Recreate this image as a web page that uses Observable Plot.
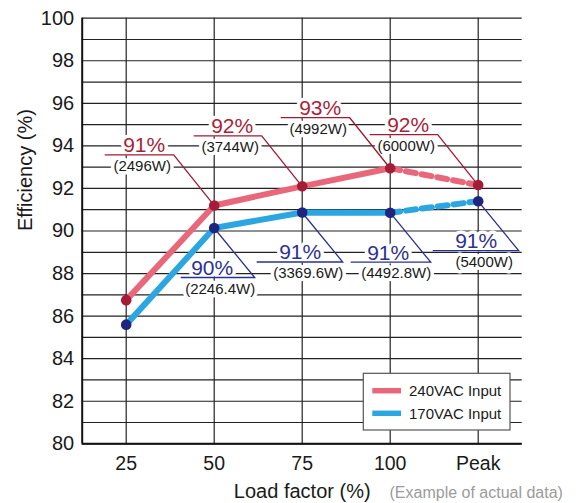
<!DOCTYPE html>
<html><head><meta charset="utf-8">
<script src="https://cdn.jsdelivr.net/npm/d3@7"></script>
<script src="https://cdn.jsdelivr.net/npm/@observablehq/plot@0.6"></script>
<style>body{margin:0;background:#fff} svg{display:block}</style>
</head><body><div id="chart"></div>
<script>
// ---- data ----
const categories = ["25", "50", "75", "100", "Peak"];
const series = ["240VAC Input", "170VAC Input"];
const eff240 = [86.75, 91.2, 92.1, 92.95, 92.16];
const eff170 = [85.6, 90.14, 90.87, 90.86, 91.4];
const labelIdx = [1, 2, 3, 4];
const pct240 = ["91%", "92%", "93%", "92%"];
const watt240 = ["(2496W)", "(3744W)", "(4992W)", "(6000W)"];
const pct170 = ["90%", "91%", "91%", "91%"];
const watt170 = ["(2246.4W)", "(3369.6W)", "(4492.8W)", "(5400W)"];
const yTicks = d3.range(80, 101, 2);
const yGrid = d3.range(80, 101, 1);

// ---- styles ----
const lineColors = ["#E9677B", "#2BA6E0"];
const dotColors = ["#A51C36", "#1E2580"];
const textColors = ["#A91F3B", "#2E3192"];
const leaderColors = ["#A31A35", "#2B3190"];
// annotation geometry (pixels, relative to the data point)
const geo = [
  {ex: -40, ey: -50, len: [69, 68, 69, 68], pdx: -70, pdy: -53, wdx: -72, wdy: -34.5},
  {ex: 41, ey: 50, len: [74, 86, 80, 86], pdx: -2, pdy: 47, wdx: 6, wdy: 65.5}
];

const values = [eff240, eff170];
const pcts = [pct240, pct170];
const watts = [watt240, watt170];
const rows = series.flatMap((s, k) => values[k].map((v, i) => ({series: s, k, i, v})));
const notes = series.flatMap((s, k) => labelIdx.map((i, j) => ({series: s, k, i, j, v: values[k][i], pct: pcts[k][j], watt: watts[k][j]})));

function leaders(index, scales) {
  const g = d3.create("svg:g").attr("fill", "none");
  notes.forEach(d => {
    const G = geo[d.k];
    const px = scales.x(d.i), py = scales.y(d.v);
    const ex = px + G.ex, ey = py + G.ey;
    g.append("path")
      .attr("d", `M${px},${py}L${ex},${ey}H${ex - G.len[d.j]}`)
      .attr("stroke", leaderColors[d.k])
      .attr("stroke-width", 1.3);
  });
  return g.node();
}

function legendMark(index, scales, vals, dims) {
  const {width, height, marginRight, marginBottom} = dims;
  const right = width - marginRight - 11.7, bottom = height - marginBottom - 13.3;
  const w = 146.7, h = 56.7, x0 = right - w, y0 = bottom - h;
  const g = d3.create("svg:g");
  g.append("rect").attr("x", x0).attr("y", y0).attr("width", w).attr("height", h)
    .attr("fill", "white").attr("stroke", "#555").attr("stroke-width", 1.2);
  series.forEach((s, k) => {
    const yy = y0 + 17.4 + k * 22.6;
    g.append("line").attr("x1", x0 + 9).attr("x2", x0 + 37.7).attr("y1", yy).attr("y2", yy)
      .attr("stroke", lineColors[k]).attr("stroke-width", 5.5);
    g.append("text").attr("x", x0 + 45.7).attr("y", yy + 5.3).attr("font-size", 15)
      .attr("text-anchor", "start").attr("fill", "#1a1a1a").text(s);
  });
  return g.node();
}

const chart = Plot.plot({
  width: 578, height: 503,
  marginLeft: 81.7, marginRight: 56.3, marginTop: 17.7, marginBottom: 59.7,
  style: {fontFamily: "'Liberation Sans', Arial, sans-serif", background: "#fff", color: "#1a1a1a"},
  x: {domain: [-0.5, categories.length - 0.5]},
  y: {domain: [80, 100]},
  marks: [
    Plot.ruleY(yGrid, {stroke: "#222", strokeWidth: 1.2}),
    Plot.ruleX(d3.range(categories.length), {stroke: "#222", strokeWidth: 1.2}),
    Plot.ruleX([-0.5], {stroke: "#111", strokeWidth: 2}),
    Plot.ruleY([80], {stroke: "#111", strokeWidth: 2}),
    Plot.axisY({ticks: yTicks, tickSize: 0, tickPadding: 8, fontSize: 20, label: null}),
    Plot.axisX({ticks: d3.range(categories.length), tickFormat: i => categories[i], tickSize: 0, tickPadding: 12, fontSize: 19.5, label: null}),
    ...series.map((s, k) => Plot.line(rows.filter(d => d.k === k && d.i <= 3),
      {x: "i", y: "v", stroke: lineColors[k], strokeWidth: 6, strokeLinejoin: "round"})),
    ...series.map((s, k) => Plot.line(rows.filter(d => d.k === k && d.i >= 3),
      {x: "i", y: "v", stroke: lineColors[k], strokeWidth: 6, strokeDasharray: "10,6"})),
    ...series.map((s, k) => Plot.text(notes.filter(d => d.k === k),
      {x: "i", y: "v", text: "pct", dx: geo[k].pdx, dy: geo[k].pdy, lineAnchor: "bottom",
       fill: textColors[k], fontSize: 21, stroke: "white", strokeWidth: 7, paintOrder: "stroke", strokeLinejoin: "round"})),
    ...series.map((s, k) => Plot.text(notes.filter(d => d.k === k),
      {x: "i", y: "v", text: "watt", dx: geo[k].wdx, dy: geo[k].wdy, lineAnchor: "bottom",
       fill: "#1a1a1a", fontSize: 15, stroke: "white", strokeWidth: 7, paintOrder: "stroke", strokeLinejoin: "round"})),
    leaders,
    ...series.map((s, k) => Plot.dot(rows.filter(d => d.k === k), {x: "i", y: "v", r: 5.3, fill: dotColors[k]})),
    legendMark,
    Plot.text(["Efficiency (%)"], {text: d => d, frameAnchor: "left", rotate: -90, dx: -57, lineAnchor: "middle", fontSize: 20}),
    Plot.text(["Load factor (%)"], {text: d => d, frameAnchor: "bottom", lineAnchor: "bottom", dy: 54.4, fontSize: 20}),
    Plot.text(["(Example of actual data)"], {text: d => d, frameAnchor: "bottom", textAnchor: "start", lineAnchor: "bottom", dx: 87.3, dy: 54.4, fontSize: 16, fill: "#9b9b9b"})
  ]
});
document.getElementById("chart").appendChild(chart);
</script>
</body></html>
